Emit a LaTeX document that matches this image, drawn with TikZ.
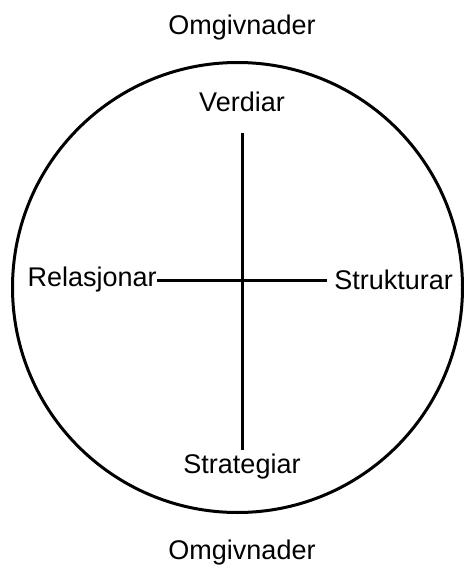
\documentclass[tikz,border=0pt]{standalone}
\usepackage{fontspec}
\setmainfont{Liberation Sans}
\usetikzlibrary{positioning}

\begin{document}
\begin{tikzpicture}[x=0.5pt,y=-0.5pt,
  lbl/.style={font=\fontsize{13.5}{16}\selectfont,inner sep=0pt},
  axis/.style={line width=1.5pt}]
\useasboundingbox (0,0) rectangle (463,572);
\coordinate (C) at (237.5,287.5);
\draw[axis] (C) circle (112.5pt);
\coordinate (T) at (242.5,133);
\coordinate (B) at (242.5,450);
\coordinate (L) at (157,280);
\coordinate (R) at (327,280);
\draw[axis] (T) -- (B);
\draw[axis] (L) -- (R);
\node[lbl] (omgT) at (242,28) {Omgivnader};
\node[lbl] (verd) at (242,102) {Verdiar};
\node[lbl,anchor=east] (rel) at (L) {Relasjonar};
\node[lbl,right=3.5pt of R] (str) {Strukturar};
\node[lbl] (strat) at (242,467) {Strategiar};
\node[lbl] (omgB) at (242,553) {Omgivnader};
\end{tikzpicture}
\end{document}
